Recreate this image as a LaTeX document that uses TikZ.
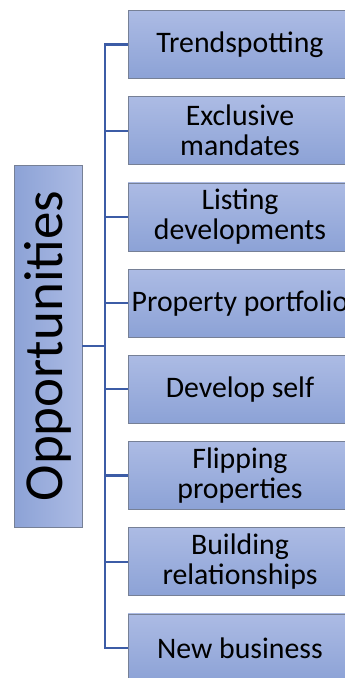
\documentclass[tikz,border=0pt]{standalone}
\usepackage{fontspec}
\setmainfont{Carlito}
\definecolor{boxtop}{RGB}{172,187,228}
\definecolor{boxbot}{RGB}{140,162,214}
\definecolor{boxedge}{RGB}{118,128,150}
\definecolor{linkblue}{RGB}{60,92,166}
\begin{document}
\begin{tikzpicture}[x=1pt,y=-1pt,
  item/.style={draw=boxedge, line width=0.8pt, top color=boxtop, bottom color=boxbot,
    minimum width=224pt, minimum height=68pt, inner sep=0pt, align=center,
    font=\fontsize{29.8}{30}\selectfont},
  root/.style={draw=boxedge, line width=0.8pt, rotate=90, left color=boxbot, right color=boxtop,
    minimum width=362pt, minimum height=68pt, inner sep=0pt,
    font=\fontsize{55}{60}\selectfont},
  link/.style={draw=linkblue, line width=2.2pt}]
\clip (0,0) rectangle (345,678);

% central topic
\node[root] (root) at (48,346) {Opportunities};

% branch items
\node[item] (b1) at (240,44.5)  {Trendspotting};
\node[item] (b2) at (240,130.7) {Exclusive\\mandates};
\node[item] (b3) at (240,216.9) {Listing\\developments};
\node[item] (b4) at (240,303.1) {Property portfolio};
\node[item] (b5) at (240,389.3) {Develop self};
\node[item] (b6) at (240,475.5) {Flipping\\properties};
\node[item] (b7) at (240,561.7) {Building\\relationships};
\node[item] (b8) at (240,647.9) {New business};

% connectors
\coordinate (hub) at (105,346);
\draw[link] (root.south) -- (hub);
\draw[link] (b1.west) -| (hub) |- (b8.west);
\foreach \i in {2,...,7}
  \draw[link] (b\i.west) -- (b\i.west -| hub);
\end{tikzpicture}
\end{document}
